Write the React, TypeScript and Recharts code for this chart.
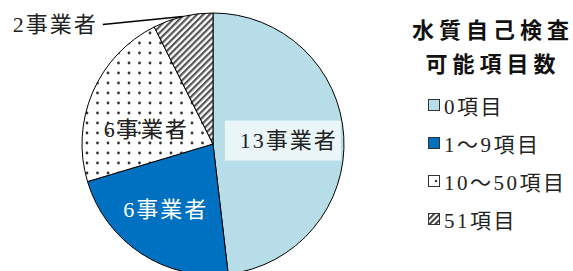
import { PieChart, Pie, Cell, Legend } from 'recharts'

const categories = ['0項目', '1～9項目', '10～50項目', '51項目']
const counts = [13, 6, 6, 2]
const labels = ['13事業者', '6事業者', '6事業者', '2事業者']
const fills = ['#B7DEE8', '#0070C0', 'url(#dots)', 'url(#hatch)']
const labelColors = ['#222', '#fff', '#222', '#222']

const data = categories.map((name, i) => ({ name, value: counts[i], label: labels[i] }))

const RAD = Math.PI / 180
const NUM_FONT = '"Liberation Serif", "DejaVu Serif", "Noto Sans CJK JP", serif'

function renderLabel(props: any) {
  const { cx, cy, midAngle, outerRadius, index } = props
  const text = labels[index]
  if (index === 3) {
    // outside label with leader line
    const sx = cx + outerRadius * Math.cos(-midAngle * RAD)
    const sy = cy + outerRadius * Math.sin(-midAngle * RAD)
    const ex = sx - 80
    const ey = sy + 8
    return (
      <g>
        <line x1={sx} y1={sy} x2={ex} y2={ey} stroke="#000" strokeWidth={1.5} />
        <text x={ex - 5} y={ey} textAnchor="end" dominantBaseline="central" fontSize={22} letterSpacing={2} fontFamily={NUM_FONT} fill="#222">
          {text}
        </text>
      </g>
    )
  }
  const r = [0.58, 0.6, 0.53][index] * outerRadius
  const dy = [1, 0, 13][index]
  const dx = [0, -4, -3][index]
  const x = cx + r * Math.cos(-midAngle * RAD) + dx
  const y = cy + r * Math.sin(-midAngle * RAD) + dy
  return (
    <g>
      {index === 0 && (
        <rect x={x - 64} y={y - 20} width={116} height={40} fill="#fff" fillOpacity={0.7} />
      )}
      <text x={x} y={y} textAnchor="middle" dominantBaseline="central" fontSize={22} letterSpacing={2} fontFamily={NUM_FONT} fill={labelColors[index]}>
        {text}
      </text>
    </g>
  )
}

function Swatch({ index }: { index: number }) {
  return (
    <svg width={13} height={13} style={{ display: 'block' }}>
      <defs>
        <pattern id={`sw-hatch-${index}`} width={4} height={4} patternUnits="userSpaceOnUse" patternTransform="rotate(45)">
          <rect width={4} height={4} fill="#fff" />
          <rect width={2} height={4} fill="#444" />
        </pattern>
      </defs>
      <rect x={0.5} y={0.5} width={11} height={11} stroke="#333" strokeWidth={1}
        fill={index === 3 ? `url(#sw-hatch-${index})` : index === 2 ? '#fff' : fills[index]} />
      {index === 2 && <circle cx={8} cy={6} r={1.2} fill="#333" />}
    </svg>
  )
}

function LegendContent() {
  return (
    <div style={{ fontFamily: '"Noto Sans CJK JP", sans-serif' }}>
      <div style={{ fontWeight: 700, fontSize: 22, letterSpacing: 5, paddingLeft: 5, lineHeight: '34px', textAlign: 'center', width: 170, color: '#111' }}>
        <div>水質自己検査</div>
        <div>可能項目数</div>
      </div>
      <div style={{ marginTop: 7 }}>
        {categories.map((c, i) => (
          <div key={c} style={{ display: 'flex', alignItems: 'center', height: 38, paddingLeft: 25 }}>
            <Swatch index={i} />
            <span style={{ marginLeft: 3, fontSize: 21, fontFamily: NUM_FONT, color: '#222', letterSpacing: 2.5 }}>{c}</span>
          </div>
        ))}
      </div>
    </div>
  )
}

export default function App() {
  return (
    <div style={{ position: 'absolute', left: 0, top: 0, width: 573, height: 271, background: '#fff', overflow: 'hidden' }}>
      <PieChart width={573} height={271} margin={{ top: 0, right: 0, bottom: 0, left: 0 }}>
        <defs>
          <pattern id="dots" width={21} height={20} patternUnits="userSpaceOnUse">
            <rect width={21} height={20} fill="#fff" />
            <circle cx={3} cy={3} r={1.4} fill="#333" />
            <circle cx={13.5} cy={3} r={1.4} fill="#333" />
            <circle cx={3} cy={13} r={1.4} fill="#333" />
            <circle cx={13.5} cy={13} r={1.4} fill="#333" />
          </pattern>
          <pattern id="hatch" width={4.5} height={4.5} patternUnits="userSpaceOnUse" patternTransform="rotate(45)">
            <rect width={4.5} height={4.5} fill="#fff" />
            <rect width={2.2} height={4.5} fill="#555" />
          </pattern>
        </defs>
        <Pie
          data={data}
          dataKey="value"
          cx={213}
          cy={144}
          outerRadius={131}
          startAngle={90}
          endAngle={-270}
          stroke="#000"
          strokeWidth={1}
          labelLine={false}
          label={renderLabel}
          isAnimationActive={false}
        >
          {data.map((d, i) => (
            <Cell key={d.name} fill={fills[i]} />
          ))}
        </Pie>
        <Legend
          layout="vertical"
          align="right"
          verticalAlign="top"
          content={() => <LegendContent />}
          wrapperStyle={{ left: 403, top: 11, width: 170 }}
        />
      </PieChart>
    </div>
  )
}
